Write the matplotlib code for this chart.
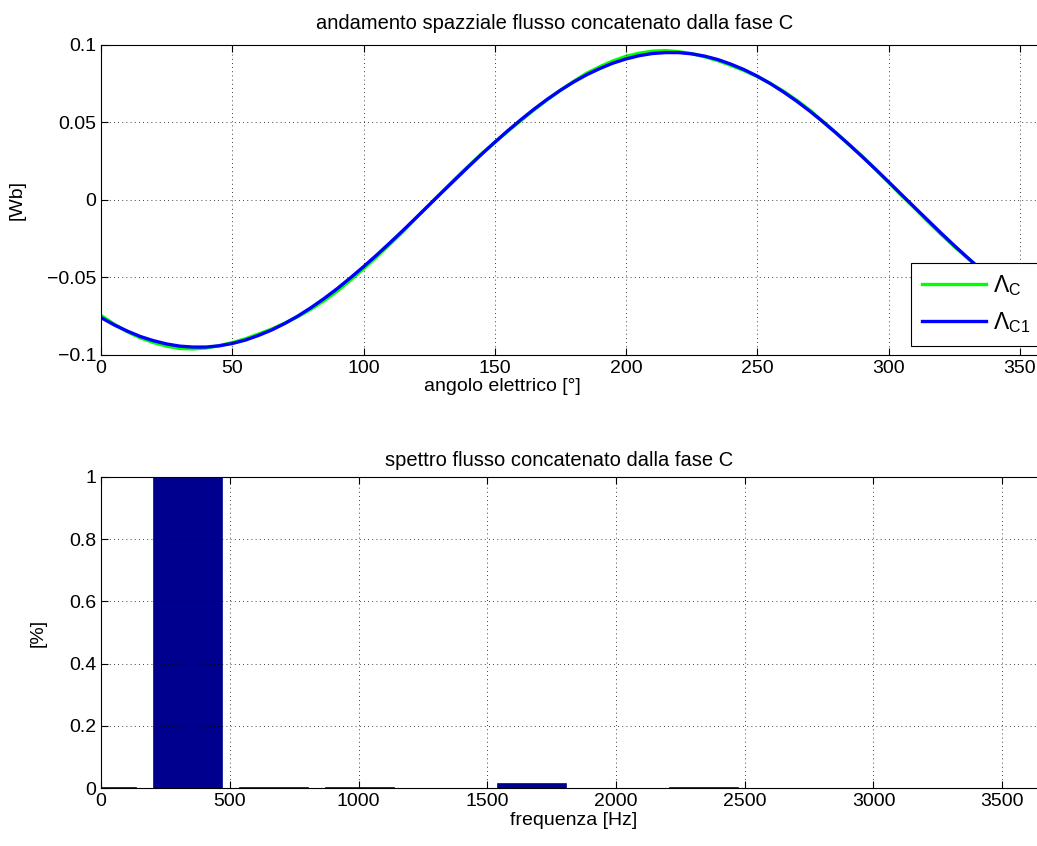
import numpy as np
import matplotlib
matplotlib.use('Agg')
import matplotlib.pyplot as plt

plt.rcParams['font.family'] = ['Liberation Sans', 'DejaVu Sans']
plt.rcParams['mathtext.fontset'] = 'custom'
plt.rcParams['mathtext.rm'] = 'Liberation Sans'
plt.rcParams['mathtext.it'] = 'Liberation Sans'
fs = 14

# angolo elettrico [deg], sampled every 5 deg
angle = list(range(0, 361, 5))

# flusso concatenato fase C (green)
lambda_c = [-0.0745, -0.0801, -0.0850, -0.0890, -0.0920, -0.0943, -0.0958, -0.0961, -0.0955,
            -0.0940, -0.0920, -0.0896, -0.0865, -0.0833, -0.0795, -0.0753, -0.0705, -0.0650,
            -0.0588, -0.0518, -0.0445, -0.0368, -0.0287, -0.0206, -0.0117, -0.0032, 0.0053,
            0.0137, 0.0218, 0.0297, 0.0370, 0.0442, 0.0512, 0.0580, 0.0645, 0.0706, 0.0763,
            0.0816, 0.0858, 0.0895, 0.0925, 0.0945, 0.0958, 0.0962, 0.0955, 0.0942, 0.0922,
            0.0897, 0.0866, 0.0833, 0.0794, 0.0750, 0.0700, 0.0642, 0.0578, 0.0506, 0.0432,
            0.0355, 0.0280, 0.0198, 0.0114, 0.0028, -0.0054, -0.0140, -0.0222, -0.0300,
            -0.0374, -0.0447, -0.0512, -0.0581, -0.0646, -0.0700, -0.0745]
# fundamental (blue)
lambda_c1 = [-0.0759, -0.0806, -0.0846, -0.0881, -0.0908, -0.0929, -0.0943, -0.0949, -0.0949,
             -0.0941, -0.0926, -0.0904, -0.0874, -0.0839, -0.0797, -0.0749, -0.0695, -0.0636,
             -0.0572, -0.0503, -0.0431, -0.0356, -0.0278, -0.0198, -0.0116, -0.0033, 0.0050,
             0.0132, 0.0214, 0.0294, 0.0371, 0.0446, 0.0517, 0.0585, 0.0648, 0.0706, 0.0759,
             0.0806, 0.0846, 0.0881, 0.0908, 0.0929, 0.0943, 0.0949, 0.0949, 0.0941, 0.0926,
             0.0904, 0.0874, 0.0839, 0.0797, 0.0749, 0.0695, 0.0636, 0.0572, 0.0503, 0.0431,
             0.0356, 0.0278, 0.0198, 0.0116, 0.0033, -0.0050, -0.0132, -0.0214, -0.0294,
             -0.0371, -0.0446, -0.0517, -0.0585, -0.0648, -0.0706, -0.0759]

# spettro
freq = [0, 334, 668, 1002, 1336, 1670, 2004, 2338, 2672, 3006, 3340]
ampl = [0.005, 1.0, 0.003, 0.003, 0.0, 0.016, 0.0, 0.003, 0.0, 0.0, 0.0]

fig = plt.figure(figsize=(10.37, 8.46), dpi=100)
ax1 = fig.add_axes([0.0974, 0.5804, 0.9113, 0.3668])
ax2 = fig.add_axes([0.0974, 0.0682, 0.9113, 0.3683])

ax1.plot(angle, lambda_c, color='#00ff00', lw=2.4, label=r'$\Lambda_{\mathrm{C}}$')
ax1.plot(angle, lambda_c1, color='#0000ff', lw=2.4, label=r'$\Lambda_{\mathrm{C1}}$')
ax1.set_xlim(0, 360)
ax1.set_ylim(-0.1, 0.1)
ax1.set_xticks(np.arange(0, 351, 50))
ax1.set_yticks([-0.1, -0.05, 0, 0.05, 0.1])
ax1.set_yticklabels(['\u22120.1', '\u22120.05', '0', '0.05', '0.1'])
ax1.set_title('andamento spazziale flusso concatenato dalla fase C', fontsize=14.5, pad=11, x=0.48)
ax1.set_xlabel('angolo elettrico [°]', fontsize=fs, labelpad=1, x=0.425)
ax1.set_ylabel('[Wb]', fontsize=fs, labelpad=15)
leg = ax1.legend(loc='lower right', bbox_to_anchor=(0.994, 0.03), borderaxespad=0, fontsize=16.5,
                 frameon=True, fancybox=False, edgecolor='black', framealpha=1,
                 handlelength=2.8, borderpad=0.45, labelspacing=0.55, handletextpad=0.3)
leg.get_frame().set_linewidth(0.8)

ax2.bar(freq, ampl, width=268, color='#00008f', edgecolor='#00008f', lw=0.5)
ax2.set_xlim(0, 3670)
ax2.set_ylim(0, 1)
ax2.set_xticks(np.arange(0, 3501, 500))
ax2.set_yticks([0, 0.2, 0.4, 0.6, 0.8, 1])
ax2.set_yticklabels(['0', '0.2', '0.4', '0.6', '0.8', '1'])
ax2.set_title('spettro flusso concatenato dalla fase C', fontsize=14.5, pad=8, x=0.485)
ax2.set_xlabel('frequenza [Hz]', fontsize=fs, labelpad=1)
ax2.set_ylabel('[%]', fontsize=fs, labelpad=16)

for ax in (ax1, ax2):
    ax.grid(True, linestyle=(0, (1, 4)), color='black', lw=0.6)
    ax.set_axisbelow(False)
    ax.tick_params(direction='in', length=5, width=0.8, top=True, right=True, labelsize=fs)
    for s in ax.spines.values():
        s.set_linewidth(0.8)

fig.savefig('out.png', dpi=100)
